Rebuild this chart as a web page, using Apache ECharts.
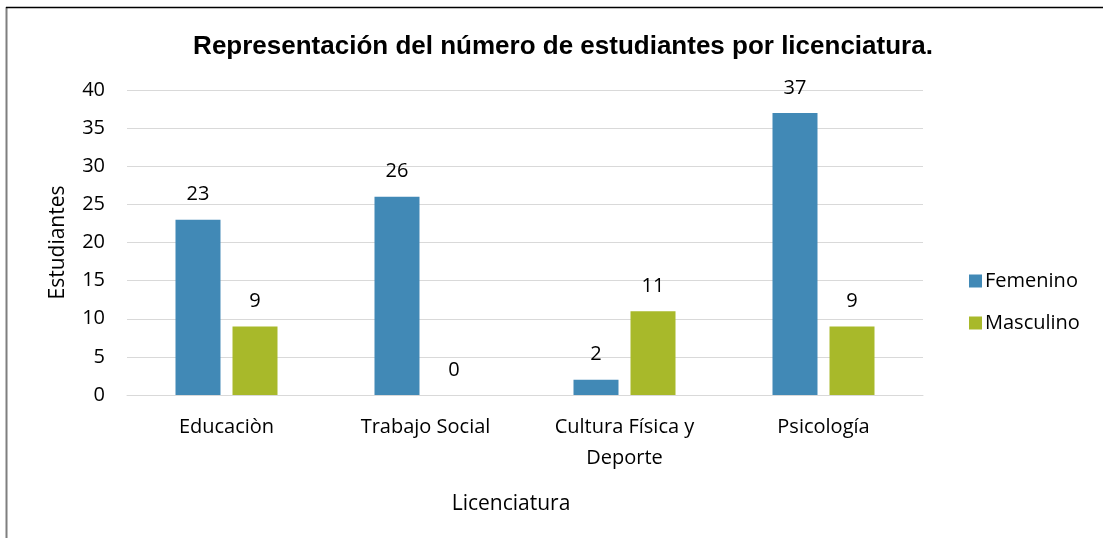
<!DOCTYPE html>
<html>
<head>
<meta charset="utf-8">
<script src="https://cdn.jsdelivr.net/npm/echarts@6/dist/echarts.min.js"></script>
<style>
  html, body { margin: 0; padding: 0; background: #fff; }
  #main { width: 1103px; height: 538px; }
</style>
</head>
<body>
<div id="main"></div>
<script>
const categories = ['Educaciòn', 'Trabajo Social', 'Cultura Física y\nDeporte', 'Psicología'];
const femenino = [23, 26, 2, 37];
const masculino = [9, 0, 11, 9];
const yTicks = [0, 5, 10, 15, 20, 25, 30, 35, 40];

const chart = echarts.init(document.getElementById('main'));
const font = '"Open Sans", "Noto Sans", sans-serif';

const labelStyle = {
  show: true,
  position: 'top',
  distance: 15,
  color: '#000',
  fontSize: 20,
  fontFamily: font
};

const option = {
  backgroundColor: '#fff',
  animation: false,
  title: {
    text: 'Representación del número de estudiantes por licenciatura.',
    left: 558,
    top: 29,
    textAlign: 'center',
    textStyle: {
      fontFamily: '"Liberation Sans", Arial, sans-serif',
      fontWeight: 'bold',
      fontSize: 26,
      color: '#000'
    }
  },
  legend: {
    orient: 'vertical',
    left: 964,
    top: 266,
    itemWidth: 13,
    itemHeight: 13,
    itemGap: 22,
    icon: 'rect',
    textStyle: { fontFamily: font, fontSize: 20, color: '#000', padding: [0, 0, 0, -2] },
    data: ['Femenino', 'Masculino']
  },
  grid: { left: 127, right: 180, top: 90, bottom: 143 },
  xAxis: {
    type: 'category',
    data: categories,
    name: 'Licenciatura',
    nameLocation: 'middle',
    nameGap: 99,
    nameTextStyle: { fontFamily: font, fontSize: 21, color: '#000', padding: [0, 28, 0, 0] },
    axisLine: { lineStyle: { color: '#d9d9d9', width: 1 } },
    axisTick: { show: false },
    axisLabel: { fontFamily: font, fontSize: 20, color: '#000', margin: 17, lineHeight: 31, interval: 0 }
  },
  yAxis: {
    type: 'value',
    min: yTicks[0],
    max: yTicks[yTicks.length - 1],
    interval: 5,
    name: 'Estudiantes',
    nameLocation: 'middle',
    nameGap: 58,
    nameTextStyle: { fontFamily: font, fontSize: 21, color: '#000' },
    axisLine: { show: false },
    axisTick: { show: false },
    axisLabel: { fontFamily: font, fontSize: 20, color: '#000', margin: 22 },
    splitLine: { lineStyle: { color: '#d9d9d9', width: 1 } }
  },
  series: [
    {
      name: 'Femenino',
      type: 'bar',
      data: femenino,
      barWidth: 45,
      barGap: '26.7%',
      itemStyle: { color: '#4189b6' },
      label: labelStyle
    },
    {
      name: 'Masculino',
      type: 'bar',
      data: masculino,
      barWidth: 45,
      itemStyle: { color: '#a8b92a' },
      label: labelStyle
    }
  ],
  graphic: [
    { type: 'line', shape: { x1: 6.5, y1: 7, x2: 6.5, y2: 538 }, style: { stroke: '#7f7f7f', lineWidth: 2 } },
    { type: 'line', shape: { x1: 6, y1: 7.5, x2: 1103, y2: 7.5 }, style: { stroke: '#000', lineWidth: 1.5 } }
  ]
};

chart.setOption(option);
</script>
</body>
</html>
